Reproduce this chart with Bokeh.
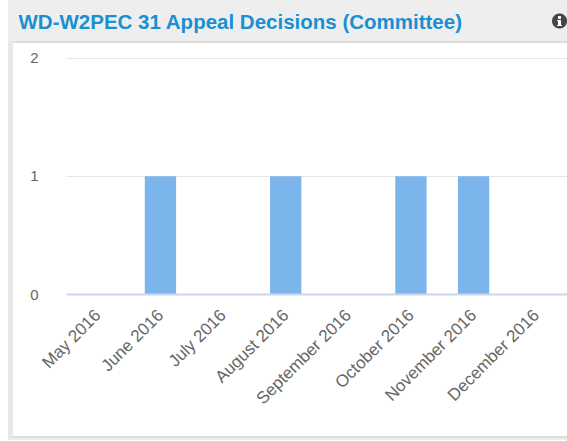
from bokeh.plotting import figure
from bokeh.embed import file_html
from bokeh.resources import INLINE
from bokeh.models import Label, FixedTicker

months = ["May 2016", "June 2016", "July 2016", "August 2016",
          "September 2016", "October 2016", "November 2016", "December 2016"]
decisions = [0, 1, 0, 1, 0, 1, 1, 0]
y_ticks = [0, 1, 2]
title_text = "WD-W2PEC 31 Appeal Decisions (Committee)"

p = figure(width=567, height=441, x_range=months, y_range=(0, 2.03),
           output_backend="svg", toolbar_location=None,
           min_border_left=66, min_border_right=0, min_border_top=54,
           min_border_bottom=147,
           border_fill_color=None, background_fill_color=None,
           outline_line_color=None)

def layer(x, y, w, h, color):
    return f"linear-gradient({color},{color}) {x}px {y}px/{w}px {h}px no-repeat"

p.styles = {"background": ", ".join([
    # info icon: white glyph strokes over a dark disc
    layer(558, 16, 3, 3, "#ffffff"),
    layer(557, 20, 4, 1, "#ffffff"),
    layer(558, 20, 3, 6, "#ffffff"),
    layer(557, 25, 5, 1, "#ffffff"),
    "radial-gradient(circle at 559.5px 21px, #444444 7px, transparent 8px) 0 0/100% 100% no-repeat",
    # panel chrome
    layer(8, 0, 559, 41, "#eeeeee"),
    layer(13, 41, 554, 2, "#dddddd"),
    layer(13, 436, 554, 2, "#dddddd"),
    layer(8, 438, 559, 2, "#eeeeee"),
    layer(8, 0, 5, 440, "#e8e8e8"),
    "#ffffff",
])}

p.vbar(x=months, top=decisions, width=0.5, fill_color="#7cb5ec", line_color=None)

# Added to the "above" side panel so that it is not clipped to the frame.
p.add_layout(Label(x=-48, y=33, x_units="screen", y_units="screen", text=title_text,
                   text_font="Liberation Sans", text_font_size="20.5px", text_font_style="bold",
                   text_color="#1a8fd1", text_align="left", text_baseline="alphabetic"), "above")

p.xaxis.major_label_orientation = 0.785
p.xaxis.major_label_text_font = "Liberation Sans"
p.xaxis.major_label_text_font_size = "17px"
p.xaxis.major_label_text_color = "#666666"
p.xaxis.major_tick_line_color = None
p.xaxis.minor_tick_line_color = None
p.xaxis.axis_line_color = "#ccd6eb"
p.xaxis.axis_line_width = 2
p.xaxis.major_label_standoff = 12

p.yaxis.ticker = FixedTicker(ticks=y_ticks)
p.yaxis.major_label_text_font = "Liberation Sans"
p.yaxis.major_label_text_font_size = "15px"
p.yaxis.major_label_text_color = "#666666"
p.yaxis.major_tick_line_color = None
p.yaxis.minor_tick_line_color = None
p.yaxis.axis_line_color = None
p.yaxis.major_label_standoff = 22

p.xgrid.grid_line_color = None
p.ygrid.grid_line_color = "#e6e6e6"

open("out.html", "w").write(file_html(p, INLINE))
